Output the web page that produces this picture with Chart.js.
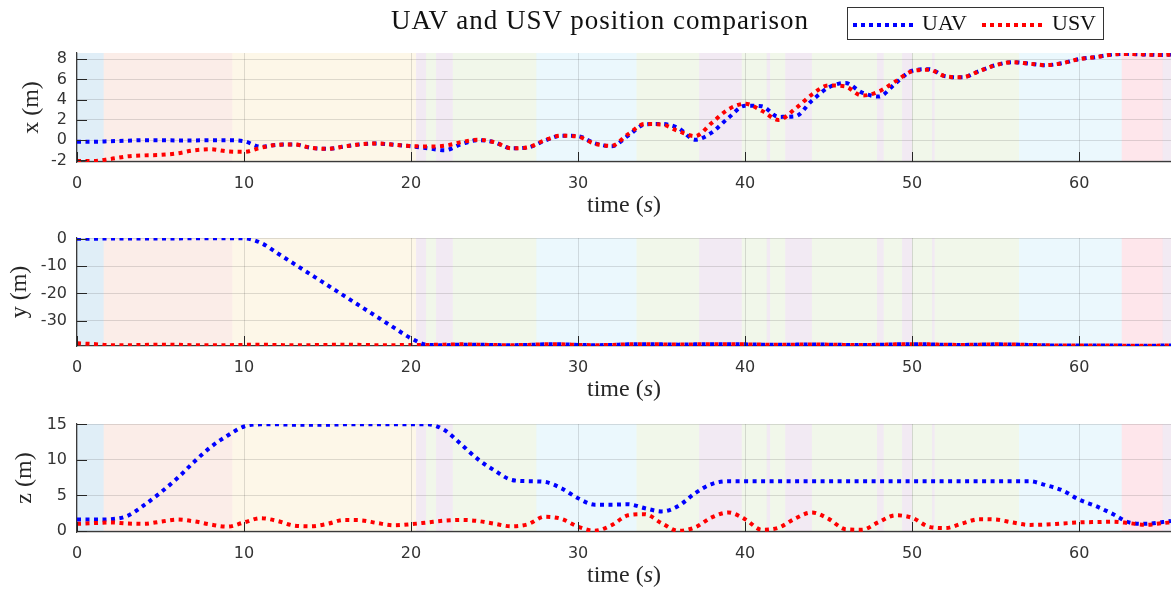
<!DOCTYPE html>
<html>
<head>
<meta charset="UTF-8">
<title>UAV and USV position comparison</title>
<script src="https://cdn.jsdelivr.net/npm/chart.js"></script>
<style>
    body { margin: 0; background: #fff; }
    #wrap { position: relative; width: 1171px; height: 589px; overflow: hidden; }
    #wrap canvas { position: absolute; left: 0; }
    #title {
        position: absolute; left: 600px; top: 7px; transform: translateX(-50%);
        font: 27px "Liberation Serif", serif; line-height: 27px; letter-spacing: 1px;
        white-space: nowrap; color: #111;
    }
    #legend {
        position: absolute; left: 847px; top: 7px; width: 255px; height: 31px;
        border: 1px solid #333; background: #fff;
        font: 22px "Liberation Serif", serif; color: #111;
    }
    .sample { position: absolute; top: 15px; width: 62px; height: 4px; }
    .label { position: absolute; top: 3px; line-height: 24px; }
</style>
</head>
<body>
<div id="wrap">
    <canvas id="chartX" width="1171" height="225" style="top:0"></canvas>
    <canvas id="chartY" width="1171" height="184" style="top:225px"></canvas>
    <canvas id="chartZ" width="1171" height="180" style="top:409px"></canvas>
    <div id="title">UAV and USV position comparison</div>
    <div id="legend">
        <div class="sample" style="left:5px;background:repeating-linear-gradient(90deg,#0000ff 0 4px,transparent 4px 8px)"></div>
        <div class="label" style="left:74px">UAV</div>
        <div class="sample" style="left:134px;background:repeating-linear-gradient(90deg,#ff0000 0 4px,transparent 4px 8px)"></div>
        <div class="label" style="left:204px">USV</div>
    </div>
</div>
<script>
// sample times (s)
const time = [0,1,2,3,4,5,6,7,8,9,10,11,12,13,14,15,16,17,18,19,20,21,22,23,24,25,26,27,28,29,
    30,31,32,33,34,35,36,37,38,39,40,41,42,43,44,45,46,47,48,49,50,51,52,53,54,55,56,57,58,59,
    60,61,62,63,64,65,65.5];

// positions (m)
const uavX = [-0.15,-0.15,-0.1,-0.05,0,0,-0.02,-0.02,0,0,-0.1,-0.65,-0.45,-0.42,-0.75,-0.85,-0.62,-0.4,-0.33,-0.45,
    -0.6,-0.8,-1.0,-0.4,0,-0.2,-0.8,-0.72,-0.05,0.45,0.4,-0.3,-0.6,0.45,1.55,1.6,1.2,0.05,0.75,2.2,
    3.4,3.35,2.3,2.35,3.9,5.2,5.65,4.7,4.3,5.6,6.85,7.0,6.3,6.2,6.8,7.4,7.7,7.55,7.4,7.6,
    8.0,8.2,8.45,8.5,8.45,8.4,8.45];
const usvX = [-2.05,-2.05,-1.85,-1.6,-1.5,-1.45,-1.3,-1.0,-0.9,-1.1,-1.15,-0.75,-0.45,-0.42,-0.75,-0.85,-0.62,-0.4,-0.33,-0.45,
    -0.57,-0.62,-0.55,-0.2,0.05,-0.2,-0.8,-0.7,0,0.45,0.35,-0.35,-0.55,0.6,1.6,1.55,0.9,0.4,1.7,3.05,
    3.6,2.9,2.0,3.1,4.5,5.4,5.3,4.4,4.8,5.8,6.8,6.95,6.3,6.2,6.8,7.4,7.7,7.55,7.4,7.6,
    8.0,8.2,8.45,8.5,8.45,8.4,8.45];

const uavY = [0,0,0.05,0.05,0.1,0.1,0.1,0.15,0.15,0.2,0.15,-1.5,-5.3,-9.2,-13.1,-17.0,-20.9,-24.8,-28.7,-32.6,
    -36.4,-38.8,-38.9,-38.7,-38.7,-38.85,-38.9,-38.8,-38.6,-38.6,-38.8,-38.9,-38.8,-38.6,-38.55,-38.6,-38.7,-38.6,-38.55,-38.6,
    -38.6,-38.7,-38.75,-38.7,-38.65,-38.7,-38.8,-38.85,-38.75,-38.6,-38.55,-38.6,-38.75,-38.8,-38.7,-38.6,-38.65,-38.8,-38.95,-39.0,
    -39.0,-39.05,-39.0,-39.1,-39.1,-39.05,-39.0];
const usvY = [-38.2,-38.5,-38.9,-38.9,-38.8,-38.7,-38.75,-38.9,-38.95,-38.9,-38.8,-38.75,-38.85,-38.95,-38.9,-38.8,-38.75,-38.8,-38.9,-38.9,
    -38.8,-38.8,-38.7,-38.6,-38.7,-38.85,-38.9,-38.8,-38.6,-38.6,-38.8,-38.9,-38.8,-38.6,-38.55,-38.6,-38.7,-38.6,-38.55,-38.6,
    -38.6,-38.7,-38.75,-38.7,-38.65,-38.7,-38.8,-38.85,-38.75,-38.6,-38.55,-38.6,-38.75,-38.8,-38.7,-38.6,-38.65,-38.8,-38.95,-39.0,
    -39.0,-39.05,-39.0,-39.1,-39.1,-39.05,-39.0];

const uavZ = [1.6,1.6,1.65,2.1,3.6,5.4,7.4,9.7,11.8,13.4,14.7,15.0,15.0,14.95,14.95,14.95,15.0,15.0,15.0,15.0,
    15.0,15.0,14.2,12.2,10.1,8.5,7.2,7.0,6.9,6.0,4.6,3.7,3.7,3.75,3.2,2.75,3.5,5.3,6.6,7.0,
    7.0,7.0,7.0,7.0,7.0,7.0,7.0,7.0,7.0,7.0,7.0,7.0,7.0,7.0,7.0,7.0,7.0,7.0,6.45,5.7,
    4.4,3.5,2.4,1.2,1.0,1.25,1.4];
const usvZ = [1.0,1.1,1.2,1.05,1.0,1.3,1.6,1.35,0.9,0.6,1.2,1.8,1.4,0.75,0.65,1.0,1.55,1.5,1.1,0.8,
    0.95,1.2,1.45,1.55,1.4,1.0,0.65,0.95,2.0,1.7,0.6,0.02,0.8,2.2,2.35,1.1,0.02,0.5,1.9,2.6,
    1.65,0.17,0.45,1.75,2.6,1.7,0.25,0.17,1.25,2.2,1.85,0.6,0.4,1.05,1.65,1.6,1.2,0.85,0.9,1.05,
    1.2,1.25,1.3,1.1,0.85,1.1,1.2];

// tick values
const timeTicks = [0,10,20,30,40,50,60];
const xTicks = [-2,0,2,4,6,8];
const yTicks = [-30,-20,-10,0];
const zTicks = [0,5,10,15];

// mission phases shaded behind the traces
const phaseStart = [0,1.6,9.3,20.3,20.9,21.5,22.5,27.5,33.5,37.25,39.8,41.3,41.5,42.4,44.0,47.9,48.3,49.4,50.0,51.2,51.35,56.4,62.55,65.0];
const phaseEnd   = [1.6,9.3,20.3,20.9,21.5,22.5,27.5,33.5,37.25,39.8,41.3,41.5,42.4,44.0,47.9,48.3,49.4,50.0,51.2,51.35,56.4,62.55,65.0,65.5];
const phaseKind  = ['takeoff','climb','transit','hold','track','hold','track','descend','track','hold','track','hold','track','hold','track','hold','track','hold','track','hold','track','descend','land','hold'];

const phaseColors = {
    takeoff: 'rgba(0,114,189,0.12)',
    climb:   'rgba(217,83,25,0.1)',
    transit: 'rgba(237,177,32,0.1)',
    hold:    'rgba(126,47,142,0.1)',
    track:   'rgba(119,172,48,0.1)',
    descend: 'rgba(77,190,238,0.11)',
    land:    'rgba(245,30,70,0.11)'
};

const phaseBands = {
    id: 'phaseBands',
    beforeDraw(chart) {
        const { ctx, chartArea: a, scales: { x } } = chart;
        ctx.save();
        phaseStart.forEach((t0, i) => {
            const x0 = Math.max(a.left, x.getPixelForValue(t0));
            const x1 = Math.min(a.right, x.getPixelForValue(phaseEnd[i]));
            ctx.fillStyle = phaseColors[phaseKind[i]];
            ctx.fillRect(x0, a.top, x1 - x0, a.bottom - a.top);
        });
        ctx.restore();
    }
};

// short tick marks pointing into the plot
const innerTicks = {
    id: 'innerTicks',
    afterDraw(chart) {
        const { ctx, chartArea: a, scales: { x, y } } = chart;
        ctx.save();
        ctx.strokeStyle = '#262626';
        ctx.lineWidth = 1;
        ctx.beginPath();
        y.ticks.forEach(t => {
            const py = Math.round(y.getPixelForValue(t.value)) + 0.5;
            ctx.moveTo(a.left, py);
            ctx.lineTo(a.left + 10, py);
        });
        x.ticks.forEach(t => {
            const px = Math.round(x.getPixelForValue(t.value)) + 0.5;
            ctx.moveTo(px, a.bottom);
            ctx.lineTo(px, a.bottom - 10);
        });
        ctx.stroke();
        ctx.restore();
    }
};

// "time (s)" with an italic s
const timeLabel = {
    id: 'timeLabel',
    afterDraw(chart) {
        const { ctx, chartArea: a } = chart;
        const parts = [['time (', ''], ['s', 'italic '], [')', '']];
        ctx.save();
        ctx.fillStyle = '#262626';
        ctx.textBaseline = 'middle';
        let total = 0;
        parts.forEach(p => {
            ctx.font = p[1] + '24px "Liberation Serif"';
            total += ctx.measureText(p[0]).width;
        });
        let px = (a.left + a.right) / 2 - total / 2;
        const py = a.bottom + 44;
        parts.forEach(p => {
            ctx.font = p[1] + '24px "Liberation Serif"';
            ctx.fillText(p[0], px, py);
            px += ctx.measureText(p[0]).width;
        });
        ctx.restore();
    }
};

const gridColor = 'rgba(38,38,38,0.15)';
const tickFont = { family: 'DejaVu Sans', size: 16 };

function makeChart(id, uav, usv, yMin, yMax, ticks, label, labelPad, topPad, xAxisHeight) {
    const pts = arr => time.map((t, i) => ({ x: t, y: arr[i] }));
    const line = {
        borderWidth: 4,
        borderDash: [4, 4.5],
        pointRadius: 0,
        fill: false,
        cubicInterpolationMode: 'monotone'
    };
    return new Chart(document.getElementById(id), {
        type: 'line',
        data: {
            datasets: [
                Object.assign({ label: 'USV', data: pts(usv), borderColor: '#ff0000', order: 0 }, line),
                Object.assign({ label: 'UAV', data: pts(uav), borderColor: '#0000ff', order: 1 }, line)
            ]
        },
        options: {
            responsive: false,
            animation: false,
            devicePixelRatio: 1,
            events: [],
            layout: { padding: { top: topPad, left: 0, right: 0, bottom: 0 } },
            plugins: { legend: { display: false }, tooltip: { enabled: false } },
            scales: {
                x: {
                    type: 'linear',
                    min: 0,
                    max: 65.5,
                    afterBuildTicks: s => { s.ticks = timeTicks.map(v => ({ value: v })); },
                    afterFit: s => { s.height = xAxisHeight; s.paddingLeft = 0; s.paddingRight = 0; },
                    grid: { color: gridColor, drawTicks: false },
                    border: { display: true, color: '#3a3a3a', width: 1.2 },
                    ticks: { font: tickFont, color: '#333', padding: 12, maxRotation: 0, autoSkip: false }
                },
                y: {
                    min: yMin,
                    max: yMax,
                    afterBuildTicks: s => { s.ticks = ticks.map(v => ({ value: v })); },
                    afterFit: s => { s.width = 77; s.paddingTop = 0; s.paddingBottom = 0; },
                    grid: { color: gridColor, drawTicks: false },
                    border: { display: true, color: '#3a3a3a', width: 1.2 },
                    ticks: { font: tickFont, color: '#333', padding: 10, autoSkip: false },
                    title: {
                        display: true,
                        text: label,
                        color: '#262626',
                        font: { family: 'Liberation Serif', size: 24 },
                        padding: { top: labelPad, bottom: 0 }
                    }
                }
            }
        },
        plugins: [phaseBands, innerTicks, timeLabel]
    });
}

makeChart('chartX', uavX, usvX, -2.15, 8.6, xTicks, 'x (m)', 17, 53, 63);
makeChart('chartY', uavY, usvY, -39.2, 0.25, yTicks, 'y (m)', 5, 13, 63);
makeChart('chartZ', uavZ, usvZ, -0.15, 15.05, zTicks, 'z (m)', 10, 15, 57);
</script>
</body>
</html>
